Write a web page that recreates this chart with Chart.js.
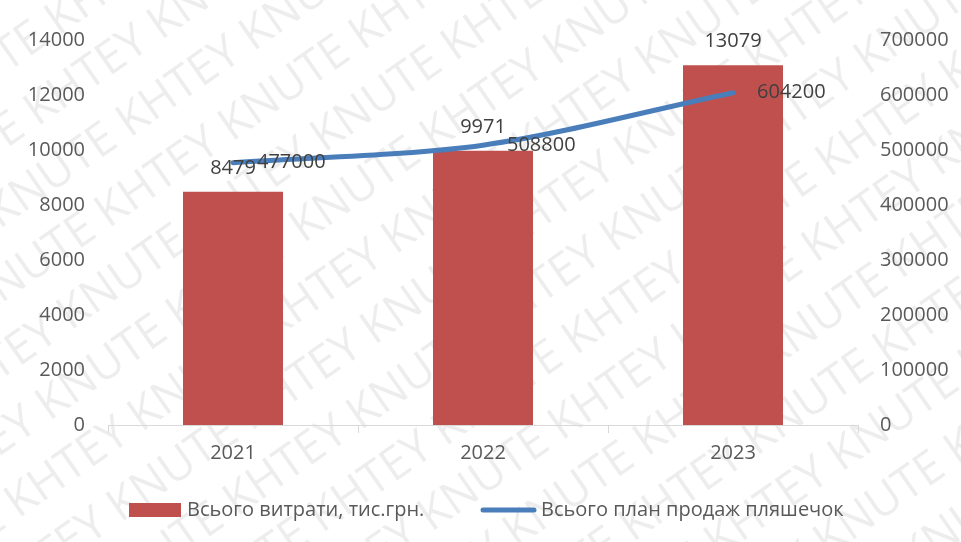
<!DOCTYPE html>
<html>
<head>
<meta charset="utf-8">
<script src="https://cdn.jsdelivr.net/npm/chart.js@4"></script>
<style>
    html, body { margin: 0; padding: 0; background: #fff; }
    #wrap { width: 961px; height: 542px; position: relative; }
</style>
</head>
<body>
<div id="wrap"><canvas id="mainChart" width="961" height="542"></canvas></div>
<script>
// Chart data
const years = ['2021', '2022', '2023'];
const costs = [8479, 9971, 13079];
const salesPlan = [477000, 508800, 604200];
const costTicks = [0, 2000, 4000, 6000, 8000, 10000, 12000, 14000];
const planTicks = [0, 100000, 200000, 300000, 400000, 500000, 600000, 700000];
const costLabel = 'Всього витрати, тис.грн.';
const planLabel = 'Всього план продаж пляшечок';

const BAR_COLOR = '#C0504D';
const LINE_COLOR = '#4A7EBB';
const FONT = '"Open Sans", sans-serif';

// Faint diagonal watermark behind the chart
const watermark = {
    id: 'watermark',
    beforeDraw(chart) {
        const ctx = chart.ctx;
        ctx.save();
        ctx.fillStyle = 'rgba(0,0,0,0.07)';
        ctx.font = '46px ' + FONT;
        ctx.translate(chart.width / 2, chart.height / 2);
        ctx.rotate(-35 * Math.PI / 180);
        const words = ['KHTEY', 'KNUTE'];
        for (let row = -12; row <= 12; row++) {
            let line = '';
            for (let i = 0; i < 14; i++) line += words[(i + row + 40) % 2] + ' ';
            ctx.fillText(line, -900 + (row % 2) * 90, row * 62);
        }
        ctx.restore();
    }
};

// Value labels for bars and line points
const valueLabels = {
    id: 'valueLabels',
    afterDatasetsDraw(chart) {
        const ctx = chart.ctx;
        ctx.save();
        ctx.font = '20px ' + FONT;
        ctx.fillStyle = '#404040';
        ctx.textBaseline = 'middle';
        chart.getDatasetMeta(0).data.forEach((el, i) => {
            ctx.textAlign = 'center';
            ctx.fillText(String(costs[i]), el.x, el.y - 24);
        });
        chart.getDatasetMeta(1).data.forEach((el, i) => {
            ctx.textAlign = 'left';
            ctx.fillText(String(salesPlan[i]), el.x + 24, el.y);
        });
        ctx.restore();
    }
};

// Legend drawn at the bottom
const bottomLegend = {
    id: 'bottomLegend',
    afterDraw(chart) {
        const ctx = chart.ctx;
        const y = 510;
        ctx.save();
        ctx.font = '20px ' + FONT;
        ctx.textBaseline = 'middle';
        ctx.textAlign = 'left';
        ctx.fillStyle = BAR_COLOR;
        ctx.fillRect(129, y - 7, 52, 14);
        ctx.fillStyle = '#595959';
        ctx.fillText(costLabel, 187, y);
        ctx.strokeStyle = LINE_COLOR;
        ctx.lineWidth = 5;
        ctx.lineCap = 'round';
        ctx.beginPath();
        ctx.moveTo(483, y);
        ctx.lineTo(534, y);
        ctx.stroke();
        ctx.fillText(planLabel, 541, y);
        ctx.restore();
    }
};

const plainNumber = v => String(v);

const ctx = document.getElementById('mainChart').getContext('2d');
new Chart(ctx, {
    data: {
        labels: years,
        datasets: [{
            type: 'bar',
            label: costLabel,
            data: costs,
            backgroundColor: BAR_COLOR,
            yAxisID: 'y',
            barPercentage: 0.4,
            categoryPercentage: 1,
            order: 2
        }, {
            type: 'line',
            label: planLabel,
            data: salesPlan,
            borderColor: LINE_COLOR,
            borderWidth: 5,
            borderCapStyle: 'round',
            tension: 0.3,
            pointRadius: 0,
            yAxisID: 'y1',
            order: 1
        }]
    },
    options: {
        responsive: false,
        animation: false,
        layout: { padding: { top: 40, bottom: 67, left: 0, right: 0 } },
        plugins: {
            legend: { display: false },
            tooltip: { enabled: false }
        },
        scales: {
            x: {
                offset: true,
                grid: { display: true, drawOnChartArea: false, tickLength: 8, color: '#d9d9d9' },
                border: { display: true, color: '#d9d9d9' },
                ticks: { color: '#595959', font: { family: FONT, size: 20 }, padding: 8 },
                afterFit(scale) { scale.height = 50; }
            },
            y: {
                position: 'left',
                min: 0,
                max: 14000,
                afterBuildTicks(scale) { scale.ticks = costTicks.map(v => ({ value: v })); },
                grid: { display: false, drawTicks: false },
                border: { display: false },
                ticks: { color: '#595959', font: { family: FONT, size: 20 }, padding: 23, callback: plainNumber },
                afterFit(scale) { scale.width = 108; }
            },
            y1: {
                position: 'right',
                min: 0,
                max: 700000,
                afterBuildTicks(scale) { scale.ticks = planTicks.map(v => ({ value: v })); },
                grid: { display: false, drawTicks: false },
                border: { display: false },
                ticks: { color: '#595959', font: { family: FONT, size: 20 }, padding: 22, callback: plainNumber },
                afterFit(scale) { scale.width = 103; }
            }
        }
    },
    plugins: [watermark, valueLabels, bottomLegend]
});
</script>
</body>
</html>
